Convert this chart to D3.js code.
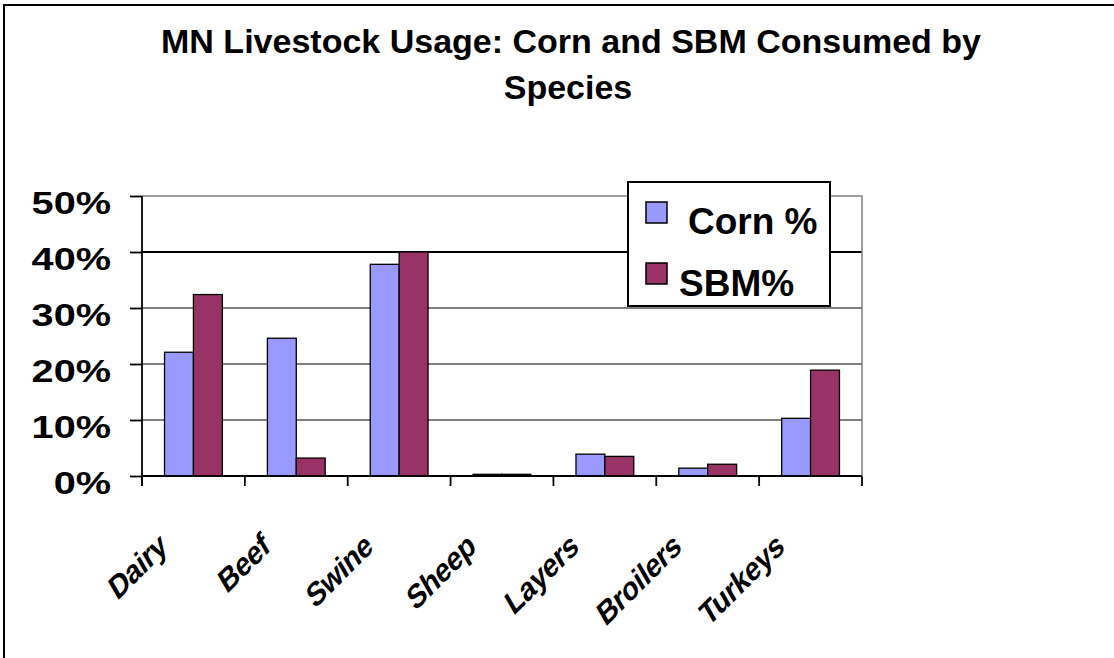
<!DOCTYPE html>
<html>
<head>
<meta charset="utf-8">
<script src="https://cdn.jsdelivr.net/npm/d3@7"></script>
<style>
  html, body { margin: 0; padding: 0; background: #fff; overflow: hidden; }
  svg { display: block; font-family: "Liberation Sans", Arial, Helvetica, sans-serif; }
</style>
</head>
<body>
<svg id="chart" width="1114" height="658"></svg>
<script>
// ---- data ----
const categories = ["Dairy", "Beef", "Swine", "Sheep", "Layers", "Broilers", "Turkeys"];
const seriesNames = ["Corn %", "SBM%"];
const cornValues = [0.221, 0.246, 0.378, 0.003, 0.039, 0.014, 0.103];
const sbmValues  = [0.324, 0.032, 0.400, 0.003, 0.035, 0.021, 0.189];
const yTicks = [0, 0.1, 0.2, 0.3, 0.4, 0.5];
const yTickLabels = ["0%", "10%", "20%", "30%", "40%", "50%"];
const titleLines = ["MN Livestock Usage: Corn and SBM Consumed by", "Species"];
const seriesColors = ["#9999FF", "#993366"];

(function () {
const svg = d3.select("#chart");

// outer chart border: only left and top edges are visible
svg.append("path").attr("d", "M4,660V5H1114")
  .attr("fill", "none").attr("stroke", "#000").attr("stroke-width", 2);

// title
svg.append("text").attr("x", 571).attr("y", 53).attr("text-anchor", "middle")
  .attr("font-size", 34).attr("font-weight", "bold").text(titleLines[0]);
svg.append("text").attr("x", 568).attr("y", 99).attr("text-anchor", "middle")
  .attr("font-size", 34).attr("font-weight", "bold").text(titleLines[1]);

// scales
const pLeft = 142, pRight = 862, pTop = 196, pBottom = 476;
const x = d3.scaleBand().domain(categories).range([pLeft, pRight]).padding(0);
const x1 = d3.scaleBand().domain(seriesNames).range([0, x.bandwidth()]).paddingInner(0).paddingOuter(0.78);
const y = d3.scaleLinear().domain([0, 0.5]).range([pBottom, pTop]);

// gridlines
svg.append("g").selectAll("line").data(yTicks.filter(t => t > 0 && t < 0.5)).join("line")
  .attr("x1", pLeft).attr("x2", pRight)
  .attr("y1", d => y(d)).attr("y2", d => y(d))
  .attr("stroke", "#000").attr("stroke-width", d => Math.abs(d - 0.4) < 1e-9 ? 2 : 1);

// plot frame top/right (gray)
svg.append("path")
  .attr("d", `M${pLeft},${y(0.5)}H${pRight}V${pBottom}`)
  .attr("fill", "none").attr("stroke", "#808080").attr("stroke-width", 1.5);

// bars
const rows = categories.map((c, i) => ({ cat: c, vals: [cornValues[i], sbmValues[i]] }));
const groups = svg.append("g").selectAll("g").data(rows).join("g")
  .attr("transform", d => `translate(${x(d.cat)},0)`);
groups.selectAll("rect").data(d => d.vals.map((v, j) => ({ s: seriesNames[j], v, j }))).join("rect")
  .attr("x", d => x1(d.s))
  .attr("width", x1.bandwidth())
  .attr("y", d => y(d.v))
  .attr("height", d => y(0) - y(d.v))
  .attr("fill", d => seriesColors[d.j])
  .attr("stroke", "#000").attr("stroke-width", 1.3);

// y axis
const yAxis = svg.append("g").attr("transform", `translate(${pLeft},0)`)
  .call(d3.axisLeft(y).tickValues(yTicks).tickSize(12).tickFormat(""));
yAxis.select(".domain").attr("d", `M0,${pTop}V${pBottom + 10}`).attr("stroke-width", 1.8);
yAxis.selectAll(".tick line").attr("stroke-width", 1.8);

// y labels (wide bold)
svg.append("g").selectAll("text").data(yTicks).join("text")
  .attr("transform", d => `translate(111,${y(d) + 17.5}) scale(1.24,1)`)
  .attr("text-anchor", "end").attr("font-size", 32).attr("font-weight", "bold")
  .text((d, i) => yTickLabels[i]);

// x axis
const xAxis = svg.append("g").attr("transform", `translate(0,${pBottom})`)
  .call(d3.axisBottom(x).tickSize(0).tickFormat(""));
xAxis.select(".domain").attr("d", `M${pLeft},0H${pRight}`).attr("stroke-width", 2);
const boundaries = categories.map(c => x(c)).concat([pRight]);
xAxis.append("g").selectAll("line").data(boundaries).join("line")
  .attr("x1", d => d).attr("x2", d => d).attr("y1", 0).attr("y2", 10)
  .attr("stroke", "#000").attr("stroke-width", 1.8);

// x labels rotated (slanted like the original)
svg.append("g").selectAll("text").data(categories).join("text")
  .attr("transform", d => `translate(${x(d) + x.bandwidth() / 2 - 25},550) rotate(-45) skewX(-15)`)
  .attr("text-anchor", "end").attr("font-size", 30).attr("font-weight", "bold")
  .attr("letter-spacing", -0.5)
  .text(d => d);

// legend
const lg = svg.append("g");
lg.append("rect").attr("x", 628).attr("y", 182).attr("width", 202).attr("height", 124)
  .attr("fill", "#fff").attr("stroke", "#000").attr("stroke-width", 2);
const legendY = [202, 263];
const legendTextX = [688, 679];
const legendTextY = [234, 296];
seriesNames.forEach((s, i) => {
  lg.append("rect").attr("x", 646).attr("y", legendY[i]).attr("width", 21).attr("height", 21)
    .attr("fill", seriesColors[i]).attr("stroke", "#000").attr("stroke-width", 1.5);
  lg.append("text").attr("x", legendTextX[i]).attr("y", legendTextY[i])
    .attr("font-size", 37).attr("font-weight", "bold").text(s);
});
})();
</script>
</body>
</html>
